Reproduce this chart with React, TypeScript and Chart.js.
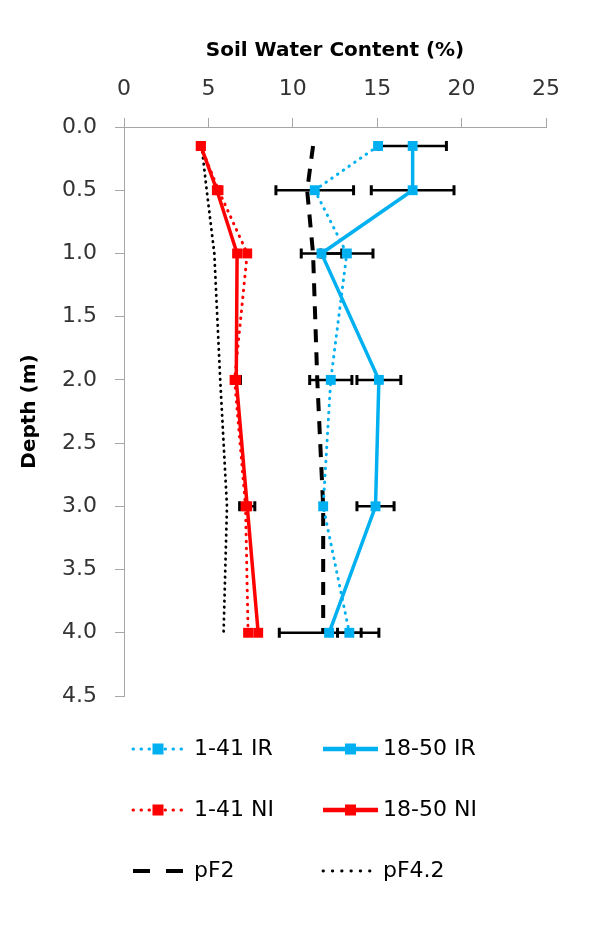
import React, { useEffect, useRef } from 'react';
import { Chart, registerables } from 'chart.js';

Chart.register(...registerables);

// Depth (m) of each measurement
const depths = [0.15, 0.5, 1.0, 2.0, 3.0, 4.0];

// Soil water content (%) per series
const ir141 = [15.05, 11.3, 13.2, 12.25, 11.8, 13.35];
const ir141Err = [0, 2.3, 1.55, 1.25, 0, 0.7];
const ir1850 = [17.1, 17.1, 11.7, 15.1, 14.9, 12.15];
const ir1850Err = [2.0, 2.45, 1.2, 1.3, 1.1, 2.95];
const ni141 = [4.55, 5.6, 7.3, 6.55, 7.2, 7.35];
const ni141Err = [0, 0, 0, 0, 0, 0];
const ni1850 = [4.55, 5.5, 6.7, 6.65, 7.3, 7.95];
const ni1850Err = [0, 0, 0, 0.25, 0.45, 0];
const pF2 = [11.2, 10.85, 11.2, 11.45, 11.8, 11.8];
const pF42 = [4.6, 4.9, 5.35, 5.7, 6.1, 5.9];

const seriesNames = ['1-41 IR', '18-50 IR', '1-41 NI', '18-50 NI', 'pF2', 'pF4.2'];
const xTitle = 'Soil Water Content (%)';
const yTitle = 'Depth (m)';

const CYAN = '#00B0F0';
const RED = '#FF0000';
const BLACK = '#000000';
const AXIS = '#a6a6a6';
const FONT = 'DejaVu Sans';

const mk = (vals: number[]) => vals.map((v, i) => ({ x: v, y: depths[i] }));

const errorBarPlugin = {
  id: 'errorBars',
  beforeDatasetsDraw(chart: any) {
    const { ctx, scales } = chart;
    const xs = scales.x;
    const ys = scales.y;
    chart.data.datasets.forEach((ds: any) => {
      const errs: number[] | undefined = ds.errors;
      if (!errs) return;
      ds.data.forEach((p: any, i: number) => {
        const e = errs[i];
        if (!e) return;
        const xl = xs.getPixelForValue(p.x - e);
        const xr = xs.getPixelForValue(p.x + e);
        const py = ys.getPixelForValue(p.y);
        ctx.save();
        ctx.strokeStyle = BLACK;
        ctx.lineWidth = 2.5;
        ctx.beginPath();
        ctx.moveTo(xl, py);
        ctx.lineTo(xr, py);
        ctx.stroke();
        ctx.lineWidth = 3;
        ctx.beginPath();
        ctx.moveTo(xl, py - 5);
        ctx.lineTo(xl, py + 5);
        ctx.moveTo(xr, py - 5);
        ctx.lineTo(xr, py + 5);
        ctx.stroke();
        ctx.restore();
      });
    });
  },
};

const legendPlugin = {
  id: 'gridLegend',
  afterDraw(chart: any) {
    const c = chart.ctx;
    const colX = [133, 323];
    const colLen = [50, 55];
    const textX = [194, 383];
    const rowY = [749, 810, 871];
    chart.data.datasets.forEach((ds: any, i: number) => {
      const col = i % 2;
      const row = Math.floor(i / 2);
      const x0 = colX[col];
      const x1 = x0 + colLen[col];
      const y = rowY[row];
      c.save();
      c.strokeStyle = ds.borderColor;
      c.lineWidth = ds.legendWidth || ds.borderWidth;
      c.lineCap = ds.borderCapStyle || 'butt';
      c.setLineDash(ds.legendDash || []);
      c.beginPath();
      c.moveTo(x0, y);
      c.lineTo(x1, y);
      c.stroke();
      c.setLineDash([]);
      if (ds.pointRadius > 0) {
        const s = 11;
        c.fillStyle = ds.backgroundColor;
        c.fillRect((x0 + x1) / 2 - s / 2, y - s / 2, s, s);
      }
      c.fillStyle = '#000';
      c.font = `22px "${FONT}"`;
      c.textBaseline = 'middle';
      c.textAlign = 'left';
      c.fillText(ds.label, textX[col], y);
      c.restore();
    });
  },
};

export default function App() {
  const ref = useRef<HTMLCanvasElement>(null);

  useEffect(() => {
    if (!ref.current) return;
    const datasets: any[] = [
      {
        label: seriesNames[0], data: mk(ir141), errors: ir141Err,
        borderColor: CYAN, backgroundColor: CYAN, borderWidth: 3,
        borderDash: [0.5, 6.5], borderCapStyle: 'round', legendDash: [0.5, 7.5],
        pointStyle: 'rect', pointRadius: 7, pointBorderWidth: 0, showLine: true,
      },
      {
        label: seriesNames[1], data: mk(ir1850), errors: ir1850Err,
        borderColor: CYAN, backgroundColor: CYAN, borderWidth: 3.5, legendWidth: 4.5,
        pointStyle: 'rect', pointRadius: 7, pointBorderWidth: 0, showLine: true,
      },
      {
        label: seriesNames[2], data: mk(ni141), errors: ni141Err,
        borderColor: RED, backgroundColor: RED, borderWidth: 3,
        borderDash: [0.5, 6.5], borderCapStyle: 'round', legendDash: [0.5, 7.5],
        pointStyle: 'rect', pointRadius: 7, pointBorderWidth: 0, showLine: true,
      },
      {
        label: seriesNames[3], data: mk(ni1850), errors: ni1850Err,
        borderColor: RED, backgroundColor: RED, borderWidth: 3.5, legendWidth: 4.5,
        pointStyle: 'rect', pointRadius: 7, pointBorderWidth: 0, showLine: true,
      },
      {
        label: seriesNames[4], data: mk(pF2),
        borderColor: BLACK, backgroundColor: BLACK, borderWidth: 4,
        borderDash: [13, 10], legendDash: [17, 16],
        pointRadius: 0, showLine: true,
      },
      {
        label: seriesNames[5], data: mk(pF42),
        borderColor: BLACK, backgroundColor: BLACK, borderWidth: 2.8,
        borderDash: [0.5, 5.5], borderCapStyle: 'round', legendDash: [0.5, 8.8],
        pointRadius: 0, showLine: true,
      },
    ];

    const chart = new Chart(ref.current, {
      type: 'scatter',
      data: { datasets },
      options: {
        responsive: false,
        animation: false,
        devicePixelRatio: 1,
        layout: { padding: { left: 0, top: 0, right: 54, bottom: 246 } },
        elements: { line: { tension: 0 } },
        plugins: { legend: { display: false }, tooltip: { enabled: false } },
        scales: {
          x: {
            type: 'linear',
            position: 'top',
            min: 0,
            max: 25,
            ticks: {
              stepSize: 5,
              font: { family: FONT, size: 22 },
              color: '#333333',
              padding: 16,
              maxRotation: 0,
            },
            grid: { drawOnChartArea: false, drawTicks: true, tickLength: 9, color: AXIS },
            border: { color: AXIS, width: 1 },
            title: {
              display: true,
              text: xTitle,
              font: { family: FONT, size: 20, weight: 'bold' },
              color: '#000',
              padding: { top: 39, bottom: 0 },
            },
            afterFit(s: any) {
              s.height = 127;
              s.paddingLeft = 0;
              s.paddingRight = 0;
            },
          },
          y: {
            type: 'linear',
            position: 'left',
            reverse: true,
            min: 0,
            max: 4.5,
            ticks: {
              stepSize: 0.5,
              font: { family: FONT, size: 22 },
              color: '#333333',
              padding: 18,
              callback: (v: any) => Number(v).toFixed(1),
            },
            grid: { drawOnChartArea: false, drawTicks: true, tickLength: 9, color: AXIS },
            border: { color: AXIS, width: 1 },
            title: {
              display: true,
              text: yTitle,
              font: { family: FONT, size: 20, weight: 'bold' },
              color: '#000',
              padding: { top: 18, bottom: 0 },
            },
            afterFit(s: any) {
              s.width = 124;
              s.paddingTop = 0;
              s.paddingBottom = 0;
            },
          },
        },
      } as any,
      plugins: [errorBarPlugin, legendPlugin],
    });
    return () => chart.destroy();
  }, []);

  return (
    <div style={{ position: 'absolute', left: 0, top: 0, width: 600, height: 942, background: '#fff' }}>
      <canvas ref={ref} width={600} height={942} style={{ display: 'block' }} />
    </div>
  );
}
